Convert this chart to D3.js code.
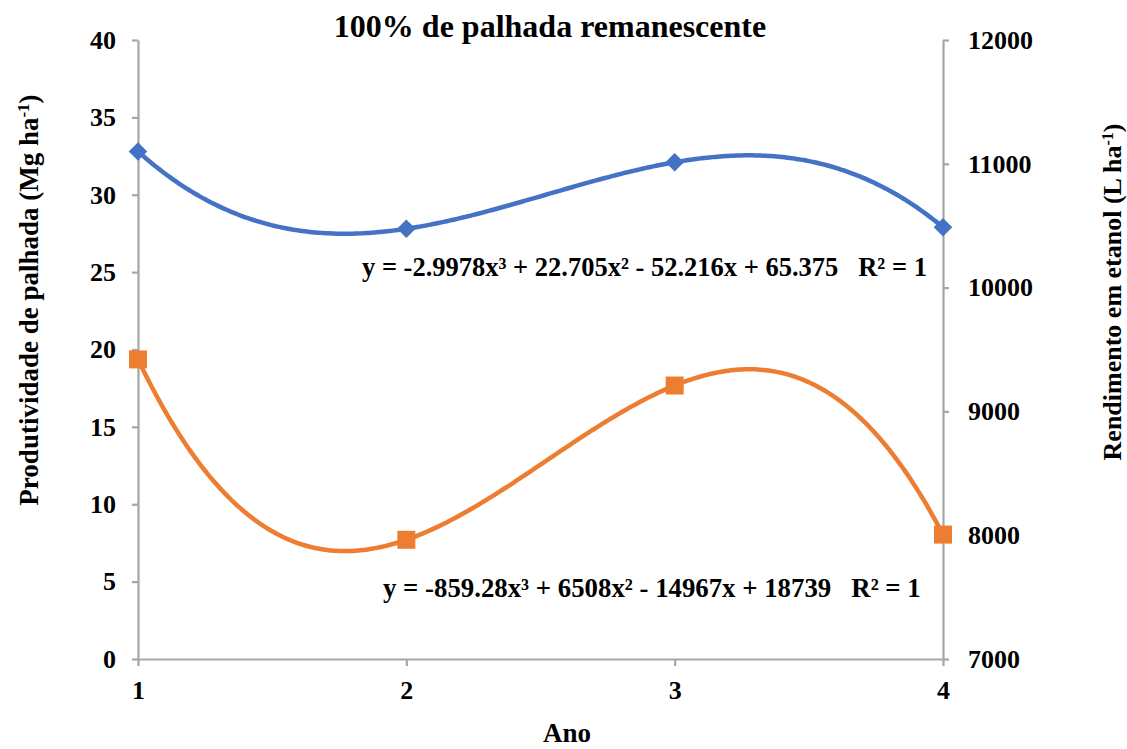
<!DOCTYPE html>
<html><head><meta charset="utf-8">
<script src="https://cdn.jsdelivr.net/npm/d3@7"></script>
<style>body{margin:0;background:#fff}svg{display:block}text{font-family:"Liberation Serif","Times New Roman",serif;font-weight:bold;fill:#000;white-space:pre}</style>
</head><body>
<script>
const years = [1, 2, 3, 4];
const palhada = [32.8, 27.8, 32.1, 27.9];          // Mg ha-1 (left axis)
const etanol = [9420, 7963, 9209, 8005];           // L ha-1 (right axis)
const leftTicks = [0, 5, 10, 15, 20, 25, 30, 35, 40];
const rightTicks = [7000, 8000, 9000, 10000, 11000, 12000];
const title = "100% de palhada remanescente";
const eqPalhada = "y = -2.9978x³ + 22.705x² - 52.216x + 65.375   R² = 1";
const eqEtanol = "y = -859.28x³ + 6508x² - 14967x + 18739   R² = 1";

const W = 1127, H = 749;
const svg = d3.select("body").append("svg").attr("width", W).attr("height", H);
const x = d3.scaleLinear().domain([1, 4]).range([138, 943]);
const yL = d3.scaleLinear().domain([0, 40]).range([659, 40]);
const yR = d3.scaleLinear().domain([7000, 12000]).range([659, 40]);
const axisColor = "#a6a6a6";

function styleAxis(g){
  g.select(".domain").attr("stroke", axisColor).attr("stroke-width", 2.2);
  g.selectAll(".tick line").attr("stroke", axisColor).attr("stroke-width", 2.2);
  g.selectAll(".tick text").style("font-size", "26px").style("font-weight", "bold").attr("fill", "#000");
}
const gL = svg.append("g").attr("transform", "translate(138,0)")
  .call(d3.axisLeft(yL).tickValues(leftTicks).tickSize(6).tickSizeOuter(0).tickPadding(16));
styleAxis(gL);
const gR = svg.append("g").attr("transform", "translate(943,0)")
  .call(d3.axisRight(yR).tickValues(rightTicks).tickFormat(d3.format("d")).tickSize(6).tickSizeOuter(0).tickPadding(19));
styleAxis(gR);
const gX = svg.append("g").attr("transform", "translate(0,659)")
  .call(d3.axisBottom(x).tickValues(years).tickFormat(d3.format("d")).tickSize(7).tickSizeOuter(0).tickPadding(15));
styleAxis(gX);

// polynomial trendline (exact cubic fit through the 4 points)
function lagrange(xs, ys){
  return t => d3.sum(xs, (xi, i) => {
    let p = ys[i];
    xs.forEach((xj, j) => { if (j !== i) p *= (t - xj) / (xi - xj); });
    return p;
  });
}
const samples = d3.range(0, 301).map(i => 1 + 3 * i / 300);
const fP = lagrange(years, palhada), fE = lagrange(years, etanol);
const line = d3.line().x(d => x(d[0])).y(d => d[1]);
const blue = "#4472c4", orange = "#ed7d31";
svg.append("path").attr("d", line(samples.map(t => [t, yL(fP(t))])))
  .attr("fill", "none").attr("stroke", blue).attr("stroke-width", 4.5);
svg.append("path").attr("d", line(samples.map(t => [t, yR(fE(t))])))
  .attr("fill", "none").attr("stroke", orange).attr("stroke-width", 4.5);

svg.selectAll(".dia").data(years).enter().append("path")
  .attr("d", d3.symbol(d3.symbolDiamond2, 220)())
  .attr("transform", (d, i) => `translate(${x(d)},${yL(palhada[i])})`)
  .attr("fill", blue);
svg.selectAll(".sq").data(years).enter().append("rect")
  .attr("x", d => x(d) - 9).attr("y", (d, i) => yR(etanol[i]) - 9)
  .attr("width", 18).attr("height", 18).attr("fill", orange);

// texts
svg.append("text").attr("x", 550).attr("y", 37).attr("text-anchor", "middle")
  .style("font-size", "32px").text(title);
svg.append("text").attr("x", 362).attr("y", 276).style("font-size", "26.5px").text(eqPalhada);
svg.append("text").attr("x", 383).attr("y", 597).style("font-size", "26.8px").text(eqEtanol);
svg.append("text").attr("x", 567).attr("y", 742).attr("text-anchor", "middle")
  .style("font-size", "27px").text("Ano");

const lt = svg.append("text").attr("transform", "translate(38,300) rotate(-90)")
  .attr("text-anchor", "middle").style("font-size", "27px");
lt.append("tspan").text("Produtividade de palhada (Mg ha");
lt.append("tspan").attr("baseline-shift", "super").style("font-size", "17px").text("-1");
lt.append("tspan").text(")");
const rt = svg.append("text").attr("transform", "translate(1121,292) rotate(-90)")
  .attr("text-anchor", "middle").style("font-size", "26px");
rt.append("tspan").text("Rendimento em etanol (L ha");
rt.append("tspan").attr("baseline-shift", "super").style("font-size", "16px").text("-1");
rt.append("tspan").text(")");
</script>
</body></html>
